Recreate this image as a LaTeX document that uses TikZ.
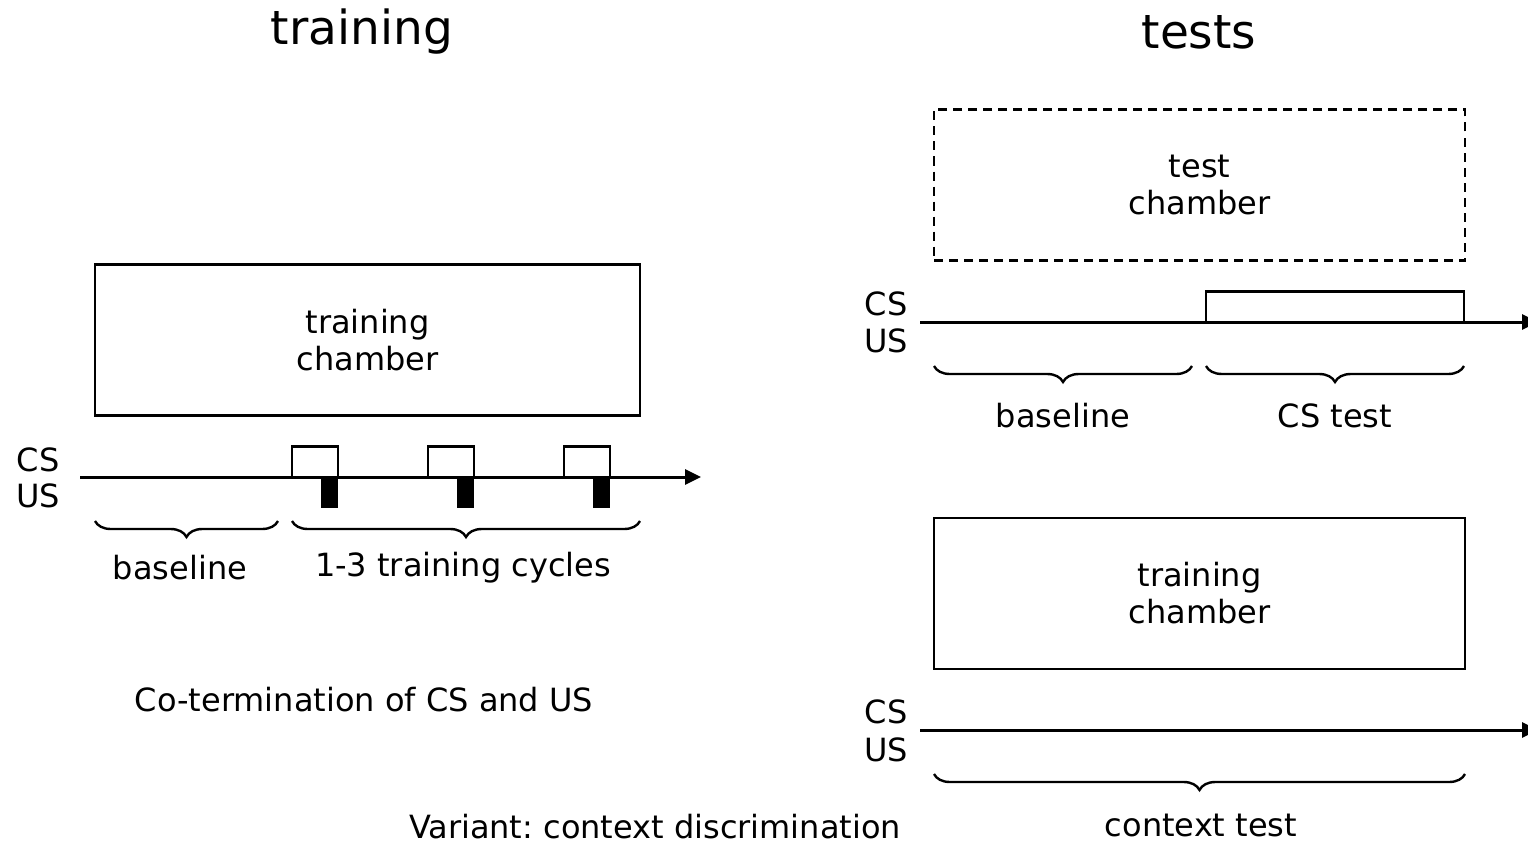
\documentclass[tikz,border=0pt]{standalone}
\usepackage{fontspec}
\setmainfont{DejaVu Sans}
\frenchspacing
\usetikzlibrary{arrows.meta,decorations.pathreplacing}
\begin{document}
\begin{tikzpicture}[x=1pt,y=-1pt,
  lbl/.style={font=\fontsize{32}{37}\selectfont, align=center, inner sep=0pt},
  ttl/.style={font=\fontsize{47}{52}\selectfont, inner sep=0pt},
  chamber/.style={draw, line width=2.8pt, minimum width=#1, minimum height=151pt, inner sep=0pt},
  timeline/.style={line width=3pt, -{Triangle[length=16pt,width=15pt]}},
  cspulse/.style={draw, line width=2.8pt},
  uspulse/.style={fill=black},
  brc/.style={decorate, decoration={brace, mirror, amplitude=16pt, aspect=0.5}, line width=2.4pt},
]
\useasboundingbox (0,0) rectangle (1528,848);
\fill[white] (0,0) rectangle (1528,848);

% titles
\node[ttl] (t1) at (362,32) {training};
\node[ttl] (t2) at (1199,32) {tests};

% left panel
\node[chamber=545pt, lbl] (trch) at (367.5,340) {training\\chamber};
\node[lbl] (cs1) at (38,460) {CS};
\node[lbl] (us1) at (38,496) {US};
\coordinate (l1s) at (80,477);
\coordinate (l1e) at (701,477);
\draw[timeline] (l1s) -- (l1e);
\foreach \a/\b in {292/321,428/457,564/593}{
  \draw[cspulse] (\a,477) -- (\a,446.5) -- (\b+17,446.5) -- (\b+17,477);
  \fill[uspulse] (\b,477) rectangle (\b+17,508);
}
\coordinate (b1a) at (95,521);
\coordinate (b1b) at (278,521);
\coordinate (b2a) at (292,521);
\coordinate (b2b) at (640,521);
\draw[brc] (b1a) -- (b1b);
\draw[brc] (b2a) -- (b2b);
\node[lbl] (bl1) at (180,568) {baseline};
\node[lbl] (tc1) at (463,568) {1-3 training cycles};
\node[lbl] (cot) at (364,700) {Co-termination of CS and US};
\node[lbl] (var) at (655,827) {Variant: context discrimination};

% right top
\node[chamber=531pt, lbl, dashed, dash pattern=on 9pt off 6pt] (tech) at (1199.5,185) {test\\chamber};
\node[lbl] (cs2) at (886,304) {CS};
\node[lbl] (us2) at (886,341) {US};
\coordinate (l2s) at (920,322);
\coordinate (l2e) at (1538,322);
\draw[timeline] (l2s) -- (l2e);
\draw[cspulse] (1206,322) -- (1206,291.5) -- (1464,291.5) -- (1464,322);
\coordinate (b3a) at (934,366);
\coordinate (b3b) at (1192,366);
\coordinate (b4a) at (1206,366);
\coordinate (b4b) at (1464,366);
\draw[brc] (b3a) -- (b3b);
\draw[brc] (b4a) -- (b4b);
\node[lbl] (bl2) at (1063,416) {baseline};
\node[lbl] (cst) at (1335,416) {CS test};

% right bottom
\node[chamber=531pt, lbl] (trch2) at (1199.5,593.5) {training\\chamber};
\node[lbl] (cs3) at (886,712) {CS};
\node[lbl] (us3) at (886,750) {US};
\coordinate (l3s) at (920,730);
\coordinate (l3e) at (1538,730);
\draw[timeline] (l3s) -- (l3e);
\coordinate (b5a) at (934,774);
\coordinate (b5b) at (1465,774);
\draw[brc] (b5a) -- (b5b);
\node[lbl] (ctx) at (1201,825) {context test};
\end{tikzpicture}
\end{document}
